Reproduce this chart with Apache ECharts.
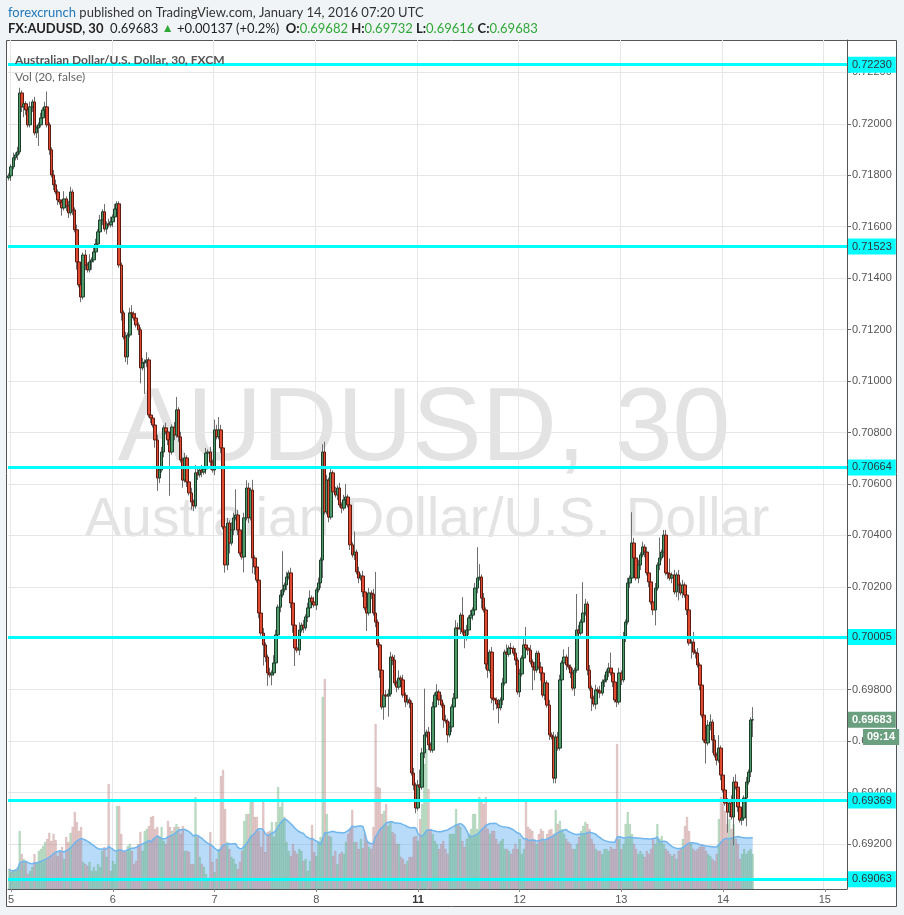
<!DOCTYPE html>
<html><head><meta charset="utf-8">
<script src="https://cdn.jsdelivr.net/npm/echarts@6/dist/echarts.min.js"></script>
<style>html,body{margin:0;padding:0;background:#f1f4f7;}#c{width:904px;height:915px;}</style>
</head><body><div id="c"></div>
<script>
// ---- data (AUDUSD 30 min, Jan 4 23:30 .. Jan 14 07:00, 2016) ----
const firstOpen = 0.71790;
const closes = [
0.71798,0.71833,0.71868,0.71879,0.71891,0.72120,0.72066,0.72078,0.72054,0.71996,
0.72066,0.72085,0.71965,0.71984,0.71996,0.72023,0.72054,0.72066,0.71996,0.71899,
0.71801,0.71763,0.71735,0.71704,0.71696,0.71673,0.71708,0.71681,0.71654,0.71735,
0.71665,0.71588,0.71463,0.71374,0.71327,0.71490,0.71451,0.71432,0.71463,0.71471,
0.71502,0.71533,0.71580,0.71626,0.71658,0.71591,0.71611,0.71607,0.71619,0.71638,
0.71669,0.71689,0.71451,0.71265,0.71171,0.71094,0.71179,0.71265,0.71261,0.71245,
0.71218,0.71199,0.71051,0.71070,0.71074,0.71082,0.70868,0.70856,0.70829,0.70771,
0.70623,0.70654,0.70724,0.70818,0.70802,0.70771,0.70724,0.70821,0.70790,0.70888,
0.70783,0.70693,0.70615,0.70701,0.70608,0.70565,0.70530,0.70514,0.70643,0.70635,
0.70654,0.70646,0.70658,0.70720,0.70724,0.70685,0.70654,0.70810,0.70783,0.70810,
0.70740,0.70433,0.70285,0.70448,0.70370,0.70421,0.70468,0.70479,0.70421,0.70331,
0.70316,0.70468,0.70584,0.70468,0.70576,0.70312,0.70277,0.70226,0.70098,0.70020,
0.69974,0.69927,0.69865,0.69857,0.69865,0.69904,0.70013,0.70121,0.70168,0.70188,
0.70207,0.70238,0.70254,0.70137,0.70051,0.69962,0.69954,0.70032,0.70051,0.70040,
0.70083,0.70118,0.70156,0.70141,0.70129,0.70188,0.70215,0.70304,0.70724,0.70491,
0.70615,0.70471,0.70643,0.70569,0.70557,0.70584,0.70518,0.70506,0.70538,0.70549,
0.70518,0.70363,0.70324,0.70335,0.70258,0.70234,0.70242,0.70180,0.70118,0.70098,
0.70176,0.70172,0.70098,0.70063,0.69974,0.69876,0.69733,0.69779,0.69775,0.69783,
0.69927,0.69915,0.69826,0.69810,0.69845,0.69838,0.69779,0.69752,0.69760,0.69748,
0.69476,0.69429,0.69340,0.69429,0.69421,0.69554,0.69624,0.69635,0.69585,0.69565,
0.69733,0.69779,0.69791,0.69760,0.69740,0.69682,0.69678,0.69624,0.69655,0.69733,
0.69767,0.70040,0.70036,0.70090,0.70024,0.70001,0.70032,0.70079,0.70090,0.70110,
0.70195,0.70234,0.70238,0.70156,0.70110,0.69900,0.69876,0.69946,0.69767,0.69760,
0.69744,0.69729,0.69760,0.69826,0.69946,0.69938,0.69962,0.69960,0.69942,0.69915,
0.69791,0.69861,0.69923,0.69974,0.69962,0.69954,0.69908,0.69888,0.69876,0.69942,
0.69888,0.69865,0.69779,0.69826,0.69740,0.69624,0.69616,0.69456,0.69616,0.69573,
0.69838,0.69904,0.69927,0.69896,0.69888,0.69865,0.69806,0.69876,0.70032,0.70020,
0.70063,0.70098,0.70133,0.69876,0.69806,0.69767,0.69744,0.69799,0.69795,0.69787,
0.69830,0.69838,0.69869,0.69884,0.69865,0.69830,0.69760,0.69752,0.69865,0.69838,
0.70005,0.70063,0.70215,0.70234,0.70370,0.70312,0.70234,0.70285,0.70324,0.70355,
0.70335,0.70254,0.70219,0.70141,0.70110,0.70195,0.70285,0.70312,0.70335,0.70401,
0.70254,0.70250,0.70234,0.70246,0.70180,0.70246,0.70207,0.70176,0.70207,0.70168,
0.70110,0.69981,0.69985,0.69946,0.69942,0.69896,0.69818,0.69701,0.69604,0.69593,
0.69662,0.69674,0.69604,0.69546,0.69526,0.69573,0.69468,0.69410,0.69359,0.69324,
0.69359,0.69305,0.69441,0.69421,0.69344,0.69293,0.69301,0.69379,0.69441,0.69480,
0.69682,0.69683];
// wick lengths above / below the body, in pips (0.0001)
const wickUp = [
1,1,2,1,2,2,1,3,1,2, 2,1,2,1,1,2,1,2,6,1, 1,2,2,1,2,1,3,1,2,2, 1,1,2,1,2,1,2,1,3,1,
2,2,1,2,1,3,1,2,2,1, 2,1,1,1,1,2,1,2,3,1, 2,1,1,2,1,3,1,2,1,1, 2,1,2,1,2,1,2,1,2,5,
1,2,1,2,1,1,2,1,3,2, 1,2,1,2,1,2,1,4,2,5, 2,1,1,2,1,3,2,10,2,1, 1,2,3,2,1,4,1,2,1,1,
2,1,1,2,1,3,2,1,2,15, 1,2,1,2,1,1,2,3,1,2, 1,2,3,1,2,1,2,1,3,4, 2,1,2,1,2,1,2,1,2,5,
1,2,1,8,1,2,1,2,1,1, 2,1,2,16,1,1,2,1,2,2, 2,1,2,1,3,1,2,1,2,1, 1,2,1,2,6,2,18,1,2,1,
2,1,3,1,2,1,2,1,2,1, 2,3,2,1,7,1,2,1,2,1, 2,12,5,1,2,1,2,1,2,1, 1,2,1,2,1,3,1,2,1,2,
1,2,1,3,7,1,2,1,2,1, 1,2,1,3,1,2,1,2,1,2, 2,1,3,1,7,1,2,1,14,2, 1,12,2,1,2,1,1,2,1,2,
1,2,1,2,6,1,2,1,2,1, 2,1,2,1,12,2,1,2,1,2, 1,2,1,2,1,2,1,8,1,2, 2,1,6,1,2,1,2,1,2,1,
1,3,1,4,1,2,1,1,2,1, 2,3,1,2,1,5,1,2,1,2, 1,3,2,3,1,2,1,1,2,1, 1,4.9];
const wickDn = [
1,2,1,1,2,1,2,4,2,1, 1,2,1,2,7,1,2,1,1,2, 1,2,1,2,1,3,1,2,2,1, 2,1,3,1,2,1,2,1,1,3,
1,2,1,1,2,1,2,1,1,2, 1,2,1,3,1,2,3,1,2,1, 1,2,6,1,12,2,1,2,1,3, 5,2,1,2,1,2,17,1,2,1,
2,1,3,1,2,1,3,2,1,2, 1,2,1,2,1,3,1,2,1,1, 2,1,3,2,4,1,2,1,2,1, 1,6,1,2,1,6,3,1,2,1,
8,2,5,1,4,1,2,1,2,1, 1,2,1,2,3,7,1,2,1,2, 1,2,1,2,1,2,1,2,7,1, 1,2,1,2,1,2,1,2,1,2,
1,2,1,2,1,2,1,2,1,7, 1,2,1,2,1,3,1,5,2,8, 1,2,1,2,1,2,1,2,1,2, 1,2,2,1,2,1,2,1,2,1,
1,2,1,2,1,3,1,3,1,2, 1,1,11,2,1,4,1,2,1,2, 1,2,1,4,1,2,3,1,2,4, 2,6,1,2,1,2,1,2,1,2,
1,2,1,2,1,2,1,9,4,1, 1,3,1,2,1,2,1,2,2,1, 1,2,1,2,1,2,1,3,1,2, 1,2,1,2,1,5,1,2,1,2,
1,2,1,2,1,2,1,2,1,2, 1,2,1,2,1,2,1,2,2,1, 2,1,2,1,2,6,1,2,1,2, 1,2,1,2,1,2,6,1,2,1,
2,1,6,1,2,1,2,1,1,8, 1,2,5,1,2,1,2,1,1,8, 2,1,11,1,2,1,2,1,11,1, 2,6.6];
const volumes = [
20,17,18,20,22,58,35,30,28,15, 18,22,35,27,38,40,43,47,50,56, 48,55,49,33,37,42,30,52,47,56,
62,77,67,58,62,27,25,23,27,18, 22,18,25,22,38,42,32,105,18,28, 25,83,83,55,38,37,43,45,38,25,
28,45,57,38,58,60,63,72,73,60, 62,53,62,48,45,68,62,58,62,65, 62,55,63,38,38,37,25,25,92,52,
32,25,22,15,8,57,27,17,30,40, 113,119,80,47,40,32,30,25,20,27, 38,68,75,75,87,87,72,72,58,42,
87,37,57,58,67,52,67,102,82,87, 72,47,38,33,45,38,35,40,38,28, 30,18,28,64,37,33,47,52,192,210,
75,53,52,33,38,25,35,37,35,47, 55,60,79,47,47,40,50,41,55,48, 42,40,62,165,102,101,75,78,85,63,
67,57,55,45,45,32,30,25,28,32, 32,52,53,48,70,85,125,140,100,60, 55,48,45,40,45,48,40,35,55,55,
55,80,65,62,48,42,50,55,60,75, 75,60,92,88,85,92,60,55,58,58, 50,45,48,50,40,40,38,35,40,45,
40,50,35,40,87,62,60,58,50,45, 55,60,58,48,55,59,60,55,79,65, 68,60,55,50,47,45,40,40,45,52,
58,63,67,65,60,50,45,40,38,38, 35,40,40,38,42,40,40,145,50,40, 45,65,77,65,55,45,40,35,38,35,
32,38,35,40,50,45,65,50,53,45, 40,38,35,33,35,30,38,40,50,63, 72,58,45,40,38,40,42,45,42,38,
35,33,30,28,35,70,92,85,78,65, 70,60,65,50,45,30,35,40,35,38, 40,35];
const dayLabels = ['5','6','7','8','11','12','13','14','15'];
const dayStarts = [1,49,97,145,193,241,289,337,385];
const slotCount = 396;
const priceTicks = [0.692,0.694,0.696,0.698,0.700,0.702,0.704,0.706,0.708,0.710,0.712,0.714,0.716,0.718,0.720,0.722];
const levels = [0.72230,0.71523,0.70664,0.70005,0.69369,0.69063];
const lastPrice = 0.69683;
const countdown = '09:14';
const volMaLength = 20;

// ---- derived ----
const slots = Array.from({length: slotCount}, (_, i) => 's' + i);
const opens = closes.map((c, i) => i === 0 ? firstOpen : closes[i - 1]);
const wickData = closes.map((c, i) => {
  const o = opens[i];
  return [o, c, Math.min(o, c) - wickDn[i] / 10000, Math.max(o, c) + wickUp[i] / 10000];
});
const bodyData = closes.map((c, i) => {
  const o = opens[i];
  return [o, c, Math.min(o, c), Math.max(o, c)];
});
const volData = volumes.map((v, i) => ({
  value: v,
  itemStyle: closes[i] >= opens[i]
    ? {color: 'rgba(120,196,140,0.42)', borderColor: 'rgba(80,150,100,0.5)', borderWidth: 0.5}
    : {color: 'rgba(214,150,150,0.42)', borderColor: 'rgba(160,100,100,0.5)', borderWidth: 0.5}
}));
const volMa = volumes.map((v, i) => {
  const s = Math.max(0, i - volMaLength + 1);
  let t = 0; for (let k = s; k <= i; k++) t += volumes[k];
  return +(t / (i - s + 1)).toFixed(2);
});
const isDay = (idx) => dayStarts.indexOf(idx) >= 0;

const FONT = 'Lato, "Liberation Sans", sans-serif';
const AXF = '"Liberation Sans", Arial, sans-serif';

const chart = echarts.init(document.getElementById('c'), null, {renderer: 'canvas'});
chart.setOption({
  animation: false,
  backgroundColor: '#f1f4f7',
  grid: {left: 8, right: 57, top: 40, bottom: 26, containLabel: false},
  xAxis: {
    type: 'category', data: slots, boundaryGap: true,
    axisLine: {show: true, lineStyle: {color: '#555', width: 1}},
    axisTick: {show: true, interval: isDay, alignWithLabel: true, length: 3, lineStyle: {color: '#888'}},
    axisLabel: {
      interval: isDay, color: '#555', fontSize: 11, fontFamily: AXF, margin: 5,
      formatter: (v, idx) => {
        const k = dayStarts.indexOf(idx);
        if (k < 0) return '';
        return dayLabels[k] === '11' ? '{b|11}' : dayLabels[k];
      },
      rich: {b: {fontWeight: 'bold', color: '#333', fontSize: 11, fontFamily: AXF}}
    },
    splitLine: {show: true, interval: isDay, lineStyle: {color: '#e6e6e6', width: 1}}
  },
  yAxis: [{
    type: 'value', position: 'right', min: 0.69025, max: 0.72326, scale: true,
    axisLine: {show: true, lineStyle: {color: '#555'}},
    axisTick: {show: true, customValues: priceTicks, length: 4, lineStyle: {color: '#666'}},
    axisLabel: {customValues: priceTicks, formatter: v => v.toFixed(5), color: '#555', fontSize: 11, fontFamily: AXF, margin: 5},
    splitLine: {show: false}
  }, {
    type: 'value', min: 0, max: 849, show: false
  }],
  series: [
    {
      type: 'line', data: [], z: 0, silent: true,
      markLine: {silent: true, symbol: 'none', precision: 5, label: {show: false}, z: 0,
        lineStyle: {color: '#e6e6e6', type: 'solid', width: 1},
        data: priceTicks.map(v => ({yAxis: v}))}
    },
    {type: 'bar', yAxisIndex: 1, data: volData, barWidth: 2, z: 1, silent: true},
    {type: 'line', yAxisIndex: 1, data: volMa, symbol: 'none', z: 1, silent: true,
      lineStyle: {color: '#6fb5ee', width: 1.5},
      areaStyle: {color: 'rgba(92,172,242,0.62)'}},
    {type: 'candlestick', data: wickData, barWidth: 1, z: 3, silent: true,
      itemStyle: {color: '#6f6f6f', color0: '#6f6f6f', borderColor: '#6f6f6f', borderColor0: '#6f6f6f', borderColorDoji: '#6f6f6f', borderWidth: 1}},
    {type: 'candlestick', data: bodyData, barWidth: 3, z: 4, silent: true,
      itemStyle: {color: '#4e9a6b', color0: '#e04a31', borderColor: '#1d3d2b', borderColor0: '#5b1b12', borderColorDoji: '#333', borderWidth: 1}},
    {
      type: 'line', data: [], z: 6, silent: true,
      markLine: {silent: true, symbol: 'none', precision: 5, z: 6,
        lineStyle: {color: '#00ffff', type: 'solid', width: 3},
        label: {show: true, position: 'end', distance: 1, formatter: p => Number(p.value).toFixed(5),
          backgroundColor: '#00ffff', color: '#333', fontSize: 11, fontFamily: AXF, padding: [3, 4, 2, 4]},
        data: levels.map(v => ({yAxis: v})).concat([{yAxis: lastPrice,
          lineStyle: {color: 'rgba(0,0,0,0)', width: 0},
          label: {backgroundColor: '#6a9f7f', color: '#fff', fontWeight: 'bold'}}])}
    }
  ],
  graphic: [
    {type: 'rect', z: -10, shape: {x: 6.5, y: 40.5, width: 890, height: 866}, style: {fill: '#fff', stroke: '#555', lineWidth: 1}},
    {type: 'text', z: -5, x: 424, y: 431, silent: true,
      style: {text: 'AUDUSD, 30', fill: '#e3e3e3', font: '104px "Liberation Sans", Arial, sans-serif', align: 'center', verticalAlign: 'middle'}},
    {type: 'text', z: -5, x: 427, y: 521, silent: true,
      style: {text: 'Australian Dollar/U.S. Dollar', fill: '#e3e3e3', font: '55px "Liberation Sans", Arial, sans-serif', align: 'center', verticalAlign: 'middle'}},
    {type: 'text', z: 10, x: 8, y: 13, silent: true,
      style: {text: '{a|forexcrunch}{n| published on TradingView.com, January 14, 2016 07:20 UTC}', verticalAlign: 'middle',
        rich: {a: {fill: '#1f78b8', fontSize: 13, fontFamily: FONT}, n: {fill: '#333', fontSize: 13, fontFamily: FONT}}}},
    {type: 'text', z: 10, x: 8, y: 29, silent: true,
      style: {text: '{b|FX:AUDUSD, 30}{n|  0.69683 }{g|▲}{n| +0.00137 (+0.2%)  }{b|O:}{v|0.69682}{b| H:}{v|0.69732}{b| L:}{v|0.69616}{b| C:}{v|0.69683}', verticalAlign: 'middle',
        rich: {b: {fill: '#222', fontSize: 13, fontWeight: 'bold', fontFamily: FONT},
               n: {fill: '#222', fontSize: 13, fontFamily: FONT},
               g: {fill: '#2ea836', fontSize: 12, fontFamily: AXF},
               v: {fill: '#2ea836', fontSize: 13, fontFamily: FONT}}}},
    {type: 'text', z: 10, x: 15, y: 60, silent: true,
      style: {text: 'Australian Dollar/U.S. Dollar, 30, FXCM', fill: '#555', fontSize: 12, fontWeight: 'bold', fontFamily: FONT, verticalAlign: 'middle'}},
    {type: 'text', z: 10, x: 15, y: 77, silent: true,
      style: {text: 'Vol (20, false)', fill: '#666', fontSize: 12, fontFamily: FONT, verticalAlign: 'middle'}},
    {type: 'text', z: 100, x: 863, y: 737, silent: true,
      style: {text: countdown, fill: '#fff', backgroundColor: '#6a9f7f', padding: [3, 4, 2, 4], fontSize: 11, fontWeight: 'bold', fontFamily: AXF, verticalAlign: 'middle'}}
  ]
});
</script></body></html>
